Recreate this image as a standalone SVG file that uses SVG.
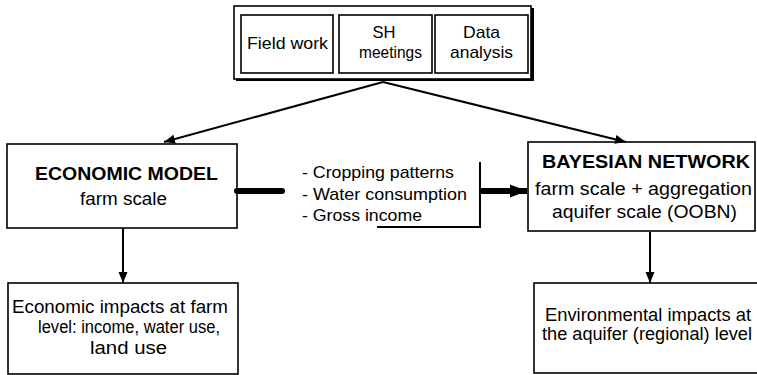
<svg xmlns="http://www.w3.org/2000/svg" width="757" height="375" viewBox="0 0 757 375">
<style>
.box{fill:#fff;stroke:#000;stroke-width:1.6}
.t{font-family:"Liberation Sans",Arial,sans-serif;font-size:17.5px;fill:#000}
.s{font-size:17px}
.b{font-weight:bold}
.c{stroke:#000;stroke-width:2;fill:none}
.thick{stroke:#000;stroke-width:6;fill:none}
</style>
<defs>
<marker id="ah" markerUnits="userSpaceOnUse" markerWidth="12" markerHeight="12" viewBox="0 0 12 12" refX="11" refY="6" orient="auto">
<path d="M0,1.5 L11,6 L0,10.5 Z" fill="#000"/>
</marker>
<marker id="ahb" markerUnits="userSpaceOnUse" markerWidth="18" markerHeight="16" viewBox="0 0 18 16" refX="17" refY="8" orient="auto">
<path d="M0,1.5 L17,8 L0,14.5 Z" fill="#000"/>
</marker>
</defs>
<g id="methods">
<rect x="236" y="8" width="298" height="73" fill="#000"/>
<rect x="234" y="6" width="297" height="73" class="box"/>
<rect x="241" y="15" width="92" height="58" class="box"/>
<rect x="339" y="15" width="93" height="58" class="box"/>
<rect x="435" y="15" width="93" height="58" class="box"/>
<text class="t s" x="287.5" y="49" text-anchor="middle" textLength="81" lengthAdjust="spacingAndGlyphs">Field work</text>
<text class="t s" x="384" y="38" text-anchor="middle" textLength="23" lengthAdjust="spacingAndGlyphs">SH</text>
<text class="t s" x="390.5" y="58" text-anchor="middle" textLength="63" lengthAdjust="spacingAndGlyphs">meetings</text>
<text class="t s" x="481.5" y="38" text-anchor="middle" textLength="37" lengthAdjust="spacingAndGlyphs">Data</text>
<text class="t s" x="481.5" y="58" text-anchor="middle" textLength="63" lengthAdjust="spacingAndGlyphs">analysis</text>
</g>
<g id="economic-model">
<rect x="7" y="144" width="230" height="84" class="box"/>
<text class="t b" x="126.5" y="180" text-anchor="middle" textLength="183" lengthAdjust="spacingAndGlyphs">ECONOMIC MODEL</text>
<text class="t" x="123.5" y="205" text-anchor="middle" textLength="87" lengthAdjust="spacingAndGlyphs">farm scale</text>
</g>
<g id="outputs">
<text class="t s" x="302" y="178" textLength="152" lengthAdjust="spacingAndGlyphs">- Cropping patterns</text>
<text class="t s" x="302" y="200" textLength="165" lengthAdjust="spacingAndGlyphs">- Water consumption</text>
<text class="t s" x="302" y="221" textLength="120" lengthAdjust="spacingAndGlyphs">- Gross income</text>
</g>
<g id="bayesian-network">
<rect x="528" y="142" width="227" height="89" class="box"/>
<text class="t b" x="646" y="168" text-anchor="middle" textLength="208" lengthAdjust="spacingAndGlyphs">BAYESIAN NETWORK</text>
<text class="t" x="643.5" y="195" text-anchor="middle" textLength="217" lengthAdjust="spacingAndGlyphs">farm scale + aggregation</text>
<text class="t" x="644.5" y="218" text-anchor="middle" textLength="185" lengthAdjust="spacingAndGlyphs">aquifer scale (OOBN)</text>
</g>
<g id="economic-impacts">
<rect x="8" y="283" width="230" height="91" class="box"/>
<text class="t" x="120" y="313" text-anchor="middle" textLength="216" lengthAdjust="spacingAndGlyphs">Economic impacts at farm</text>
<text class="t" x="129" y="333" text-anchor="middle" textLength="182" lengthAdjust="spacingAndGlyphs">level: income, water use,</text>
<text class="t" x="128.5" y="354" text-anchor="middle" textLength="77" lengthAdjust="spacingAndGlyphs">land use</text>
</g>
<g id="environmental-impacts">
<rect x="534" y="283" width="226" height="90" class="box"/>
<text class="t" x="648" y="321" text-anchor="middle" textLength="206" lengthAdjust="spacingAndGlyphs">Environmental impacts at</text>
<text class="t" x="647" y="340" text-anchor="middle" textLength="210" lengthAdjust="spacingAndGlyphs">the aquifer (regional) level</text>
</g>
<g id="connectors">
<line class="c" x1="383" y1="82" x2="164" y2="142" marker-end="url(#ah)"/>
<line class="c" x1="383" y1="82" x2="626" y2="142" marker-end="url(#ah)"/>
<line class="thick" x1="237" y1="191" x2="282" y2="191" stroke-linecap="round"/>
<polyline class="c" points="377,227 480,227 480,162"/>
<line class="thick" x1="480" y1="191" x2="527" y2="191" marker-end="url(#ahb)"/>
<line class="c" x1="123" y1="228" x2="123" y2="283" marker-end="url(#ah)"/>
<line class="c" x1="650" y1="232" x2="650" y2="283" marker-end="url(#ah)"/>
</g>
</svg>
